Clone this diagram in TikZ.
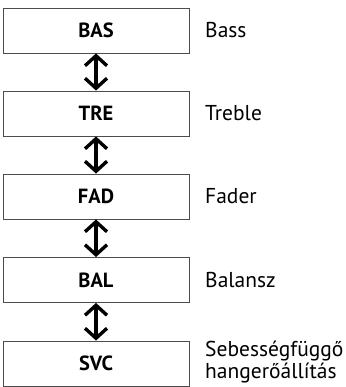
\documentclass[tikz,border=0pt]{standalone}
\usepackage{fontspec}
\setmainfont{PT Sans}
\usetikzlibrary{arrows.meta}
\tikzset{
  keybox/.style={draw=black!70, line width=0.9pt, minimum width=186pt, minimum height=45pt, inner sep=0pt, font=\fontsize{20.5}{24}\selectfont\bfseries},
  desc/.style={anchor=west, inner sep=0pt, align=left, font=\fontsize{21.5}{21.5}\selectfont},
  dbl/.style={line width=3.4pt, {Straight Barb[length=10pt,width=22pt]}-{Straight Barb[length=10pt,width=22pt]}}
}
\begin{document}
\begin{tikzpicture}[x=1pt,y=-1pt]
\useasboundingbox (0,0) rectangle (345,387);
\node[keybox] (bas) at (96,30.5) {BAS};
\node[keybox] (tre) at (96,113.5) {TRE};
\node[keybox] (fad) at (96,196.5) {FAD};
\node[keybox] (bal) at (96,280) {BAL};
\node[keybox] (svc) at (96,363.5) {SVC};
\node[desc] (lbas) at (205,30.5) {Bass};
\node[desc] (ltre) at (205,113.5) {Treble};
\node[desc] (lfad) at (205,196.5) {Fader};
\node[desc] (lbal) at (205,280) {Balansz};
\node[desc] (lsvc) at (205,362) {Sebességfüggő\\hangerőállítás};
\draw[dbl] (bas.south) -- (tre.north);
\draw[dbl] (tre.south) -- (fad.north);
\draw[dbl] (fad.south) -- (bal.north);
\draw[dbl] (bal.south) -- (svc.north);
\end{tikzpicture}
\end{document}
